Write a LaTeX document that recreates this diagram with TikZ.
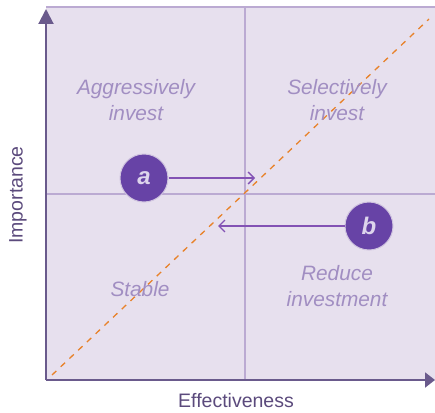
\documentclass[tikz,border=0pt]{standalone}
\usepackage{fontspec}
\setmainfont{Liberation Sans}
\usetikzlibrary{arrows.meta}
\definecolor{bgfill}{HTML}{E7E0EE}
\definecolor{gridc}{HTML}{BBAAD2}
\definecolor{axisc}{HTML}{6A5A8C}
\definecolor{quadtxt}{HTML}{A18EC2}
\definecolor{circfill}{HTML}{6743A6}
\definecolor{circtxt}{HTML}{DDD4EC}
\definecolor{arrc}{HTML}{8352B4}
\definecolor{dashc}{HTML}{E8822A}
\definecolor{labc}{HTML}{5B4A7C}
\begin{document}
\begin{tikzpicture}[x=1pt,y=-1pt,
  quad/.style={text=quadtxt,font=\fontsize{20.8}{25.5}\selectfont\itshape,align=center},
  bubble/.style={circle,fill=circfill,draw=gridc!70!white,line width=1pt,minimum size=48pt,inner sep=0pt,text=circtxt,font=\fontsize{24}{24}\selectfont\bfseries\itshape},
  axlabel/.style={text=labc,font=\fontsize{19.5}{19.5}\selectfont},
  gridline/.style={draw=gridc,line width=1.3pt},
  movearrow/.style={draw=arrc,line width=1.3pt,-{Straight Barb[length=6pt,width=12pt,line width=1.3pt]}}]
\useasboundingbox (0,0) rectangle (435,412);
\fill[bgfill] (46,7) rectangle (435,380);
\draw[gridline] (46,7) -- (435,7);
\draw[gridline] (245,7) -- (245,380);
\draw[gridline] (46,194) -- (435,194);
\draw[dashc,line width=1.3pt,dash pattern=on 6pt off 6pt] (52,375) -- (429,19);
\coordinate (o) at (46,380);
\coordinate (ytop) at (46,9);
\coordinate (xend) at (435,380);
\draw[axisc,line width=2pt,-{Triangle[length=15pt,width=15pt]}] (o) -- (ytop);
\draw[axisc,line width=2pt,-{Triangle[length=10pt,width=15pt]}] (o) -- (xend);
\node[quad] (aggr) at (136,100) {Aggressively\\invest};
\node[quad] (sel) at (337,100) {Selectively\\invest};
\node[quad] (stab) at (140,289) {Stable};
\node[quad] (red) at (337,286) {Reduce\\investment};
\node[bubble] (a) at (144,178) {a};
\node[bubble] (b) at (369,226) {b};
\coordinate (atip) at (255,178);
\coordinate (btip) at (218,226);
\draw[movearrow] (a) -- (atip);
\draw[movearrow] (b) -- (btip);
\node[axlabel,rotate=90] (imp) at (18,195) {Importance};
\node[axlabel] (eff) at (236,401) {Effectiveness};
\end{tikzpicture}
\end{document}
